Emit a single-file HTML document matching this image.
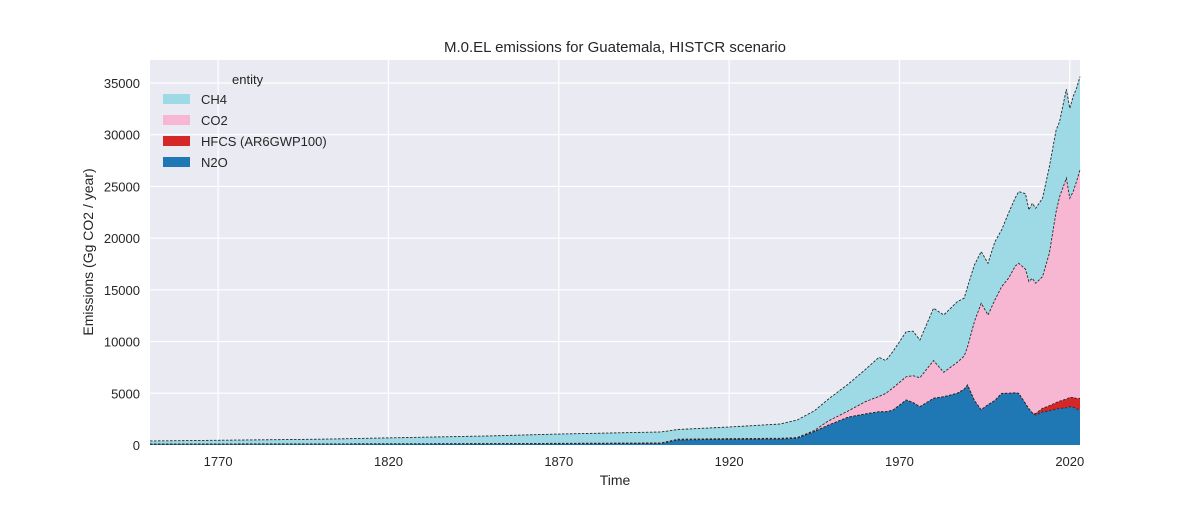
<!DOCTYPE html>
<html><head><meta charset="utf-8"><style>
body{margin:0;background:#fff;font-family:"Liberation Sans",sans-serif}
svg text{font-family:"Liberation Sans",sans-serif;fill:#262626}
</style></head><body>
<svg id="chart" width="1200" height="500" xmlns="http://www.w3.org/2000/svg">
<rect x="150" y="60" width="930" height="385" fill="#eaeaf2"/>
<g id="grid"></g>
<g id="areas"></g>
<g id="axes"></g>
<text x="615" y="52" text-anchor="middle" font-size="15">M.0.EL emissions for Guatemala, HISTCR scenario</text>
<text x="615" y="485" text-anchor="middle" font-size="14">Time</text>
<text transform="translate(93,252) rotate(-90)" text-anchor="middle" font-size="14">Emissions (Gg CO2 / year)</text>
<g>
<text x="232" y="84" font-size="13">entity</text>
<rect x="163" y="94" width="27" height="10" fill="#9edae5"/>
<text x="201" y="104" font-size="13">CH4</text>
<rect x="163" y="115" width="27" height="10" fill="#f7b6d2"/>
<text x="201" y="125" font-size="13">CO2</text>
<rect x="163" y="136" width="27" height="10" fill="#d62728"/>
<text x="201" y="146" font-size="13">HFCS (AR6GWP100)</text>
<rect x="163" y="157" width="27" height="10" fill="#1f77b4"/>
<text x="201" y="167" font-size="13">N2O</text>
</g>
</svg>
<script>
const years=[1750,1800,1850,1870,1900,1905,1920,1935,1940,1945,1949,1955,1960,1964,1966,1968,1972,1974,1976,1980,1983,1987,1989,1990,1992,1994,1996,1998,2000,2002,2004,2005,2007,2008,2009,2010,2012,2014,2016,2017,2019,2020,2021,2022,2023];
const n2o=[80,90,110,120,150,500,550,580,650,1300,1900,2700,3000,3220,3220,3350,4350,4100,3700,4510,4670,5000,5400,5800,4300,3400,3900,4300,4990,5000,5050,4990,4000,3500,3100,2890,3200,3300,3450,3540,3600,3700,3650,3500,3380];
const hfcs=[0,0,0,0,0,0,0,0,0,0,0,0,0,0,0,0,0,0,0,0,0,0,0,0,0,0,0,0,0,0,0,0,0,0,0,150,350,500,650,700,850,900,950,1000,1130];
const co2=[20,25,30,40,50,60,70,70,70,100,400,600,1190,1480,1770,2150,2250,2600,2800,3650,2360,3000,3200,3710,7630,10300,8670,9720,10320,11120,12250,12580,13000,12300,13020,12600,12730,14740,18470,19760,21350,19260,19900,21000,22090];
const ch4=[290,445,740,900,1060,940,1120,1380,1700,1900,2100,2600,3110,3780,3170,3500,4360,4300,3650,5060,5540,5860,5600,5800,5480,5000,5000,5620,5490,6290,6600,6930,7300,6930,7250,7250,7580,8360,7890,7260,8600,8700,9200,9000,9020];
const tickYears=[1770,1820,1870,1920,1970,2020];
const tickVals=[0,5000,10000,15000,20000,25000,30000,35000];
const NS='http://www.w3.org/2000/svg';
const X0=150,X1=1080,Y0=445,yScale=0.010343;
const xs=y=>X0+(y-1750)/(2023-1750)*(X1-X0);
const ys=v=>Y0-v*yScale;
const grid=document.getElementById('grid'),axes=document.getElementById('axes'),areas=document.getElementById('areas');
tickYears.forEach(t=>{
 const l=document.createElementNS(NS,'line');
 
 
 l.setAttribute('x1',xs(t));l.setAttribute('x2',xs(t));l.setAttribute('y1',60);l.setAttribute('y2',445);
 l.setAttribute('stroke','#fff');l.setAttribute('stroke-width','1.2');grid.appendChild(l);
 const tx=document.createElementNS(NS,'text');
 
 
 tx.setAttribute('x',xs(t));tx.setAttribute('y',466);tx.setAttribute('text-anchor','middle');tx.setAttribute('font-size','13');
 tx.textContent=t;axes.appendChild(tx);
});
tickVals.forEach(v=>{
 const l=document.createElementNS(NS,'line');
 
 
 l.setAttribute('x1',150);l.setAttribute('x2',1080);l.setAttribute('y1',ys(v));l.setAttribute('y2',ys(v));
 l.setAttribute('stroke','#fff');l.setAttribute('stroke-width','1.2');grid.appendChild(l);
 const tx=document.createElementNS(NS,'text');
 
 
 tx.setAttribute('x',140);tx.setAttribute('y',ys(v)+5);tx.setAttribute('text-anchor','end');tx.setAttribute('font-size','13');
 tx.textContent=v;axes.appendChild(tx);
});
const series=[['n2o',n2o,'#1f77b4'],['hfcs',hfcs,'#d62728'],['co2',co2,'#f7b6d2'],['ch4',ch4,'#9edae5']];
let base=years.map(()=>0);
const tops=[];
series.forEach(([nm,arr,col])=>{
 const top=base.map((b,i)=>b+arr[i]);
 let d='M'+years.map((y,i)=>xs(y).toFixed(2)+','+ys(top[i]).toFixed(2)).join('L');
 for(let i=years.length-1;i>=0;i--) d+='L'+xs(years[i]).toFixed(2)+','+ys(base[i]).toFixed(2);
 d+='Z';
 const p=document.createElementNS(NS,'path');
 
 
 p.setAttribute('d',d);p.setAttribute('fill',col);areas.appendChild(p);
 tops.push([nm,top]);
 base=top;
});
tops.forEach(([nm,top])=>{
 const l=document.createElementNS(NS,'polyline');
 
 
 l.setAttribute('points',years.map((y,i)=>xs(y).toFixed(2)+','+ys(top[i]).toFixed(2)).join(' '));
 l.setAttribute('fill','none');l.setAttribute('stroke','#2a2a2a');l.setAttribute('stroke-width','0.9');l.setAttribute('stroke-dasharray','2.5,1.5');
 areas.appendChild(l);
});
</script>
</body></html>
